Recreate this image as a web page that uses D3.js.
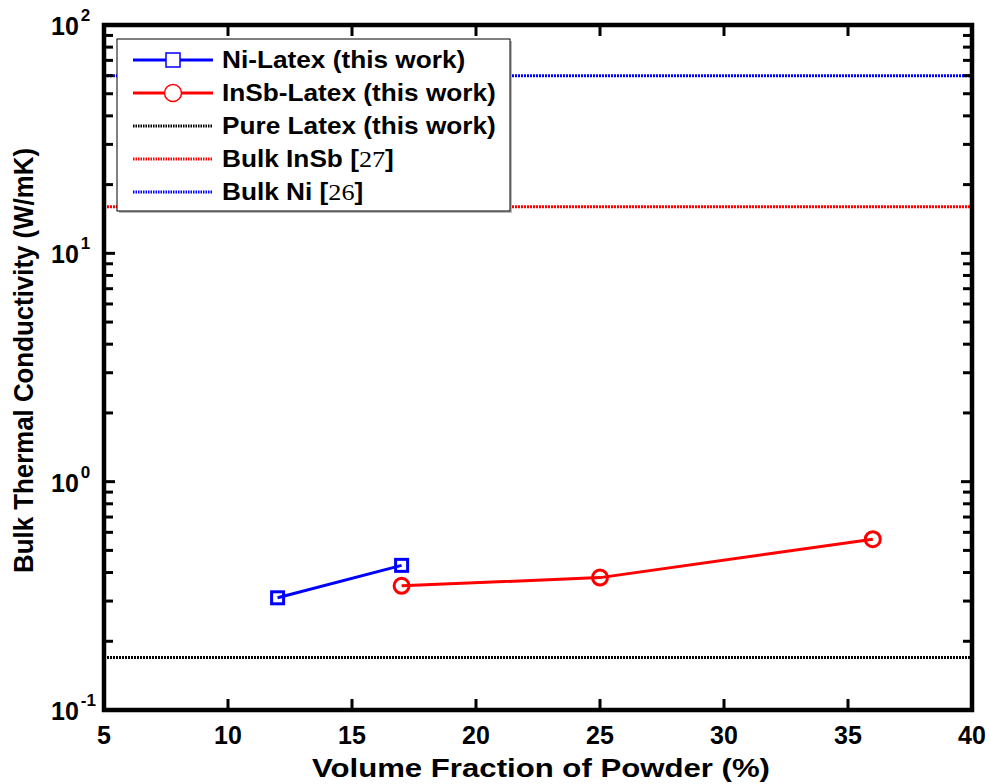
<!DOCTYPE html>
<html>
<head>
<meta charset="utf-8">
<script src="https://cdn.jsdelivr.net/npm/d3@7"></script>
<style>
  body { margin: 0; background: #fff; }
  svg { display: block; font-family: Arial, "Liberation Sans", sans-serif; }
  .tick-label { font-size: 25px; font-weight: bold; }
  .axis-title { font-weight: bold; }
  .legend-text { font-size: 23px; font-weight: bold; }
</style>
</head>
<body>
<svg id="chart" width="989" height="784"></svg>
<script>
// data
const niX = [12, 17];
const niY = [0.31, 0.43];
const insbX = [17, 25, 36];
const insbY = [0.35, 0.38, 0.56];
const pureLatex = 0.17;
const bulkInSb = 16;
const bulkNi = 60;

const xTicks = [5, 10, 15, 20, 25, 30, 35, 40];
const yDecades = [-1, 0, 1, 2];

const W = 989, H = 784;
const m = { left: 104, right: 17, top: 25, bottom: 74 };

const svg = d3.select('#chart');

const x = d3.scaleLinear().domain([5, 40]).range([m.left, W - m.right]);
const y = d3.scaleLog().domain([0.1, 100]).range([H - m.bottom, m.top]);

const x0 = x.range()[0], x1 = x.range()[1];
const yb = y.range()[0], yt = y.range()[1];

// reference lines (dotted)
const refs = [
  { v: bulkNi, color: '#0000ff' },
  { v: bulkInSb, color: '#ff0000' },
  { v: pureLatex, color: '#000000' },
];
svg.append('g').selectAll('line')
  .data(refs)
  .enter().append('line')
  .attr('x1', x0).attr('x2', x1)
  .attr('y1', d => y(d.v)).attr('y2', d => y(d.v))
  .attr('stroke', d => d.color)
  .attr('stroke-width', 3)
  .attr('stroke-dasharray', '2,1');

// data series
const line = d3.line().x(d => x(d[0])).y(d => y(d[1]));
const niPts = niX.map((v, i) => [v, niY[i]]);
const insbPts = insbX.map((v, i) => [v, insbY[i]]);

svg.append('path').datum(niPts)
  .attr('d', line).attr('fill', 'none')
  .attr('stroke', '#0000ff').attr('stroke-width', 3);
svg.append('path').datum(insbPts)
  .attr('d', line).attr('fill', 'none')
  .attr('stroke', '#ff0000').attr('stroke-width', 3);

svg.append('g').selectAll('rect')
  .data(niPts)
  .enter().append('rect')
  .attr('x', d => x(d[0]) - 6).attr('y', d => y(d[1]) - 6)
  .attr('width', 12).attr('height', 12)
  .attr('fill', 'none').attr('stroke', '#0000ff').attr('stroke-width', 3);

svg.append('g').selectAll('circle')
  .data(insbPts)
  .enter().append('circle')
  .attr('cx', d => x(d[0])).attr('cy', d => y(d[1]))
  .attr('r', 7.5)
  .attr('fill', 'none').attr('stroke', '#ff0000').attr('stroke-width', 3);

// frame + ticks
const axG = svg.append('g').attr('stroke', '#000');

const yTickVals = [];
yDecades.forEach(d => {
  for (let k = 1; k <= 9; k++) {
    const v = k * Math.pow(10, d);
    if (v <= 100.0001) yTickVals.push({ v, major: k === 1 });
  }
});
yTickVals.forEach(t => {
  const len = t.major ? 11 : 9;
  axG.append('line').attr('x1', x0).attr('x2', x0 + len)
    .attr('y1', y(t.v)).attr('y2', y(t.v)).attr('stroke-width', 3);
  axG.append('line').attr('x1', x1).attr('x2', x1 - len)
    .attr('y1', y(t.v)).attr('y2', y(t.v)).attr('stroke-width', 3);
});
xTicks.forEach(v => {
  axG.append('line').attr('x1', x(v)).attr('x2', x(v))
    .attr('y1', yb).attr('y2', yb - 11).attr('stroke-width', 3);
  axG.append('line').attr('x1', x(v)).attr('x2', x(v))
    .attr('y1', yt).attr('y2', yt + 11).attr('stroke-width', 3);
});

axG.append('rect')
  .attr('x', x0).attr('y', yt)
  .attr('width', x1 - x0).attr('height', yb - yt)
  .attr('fill', 'none').attr('stroke-width', 4.5);

// x tick labels
svg.append('g').selectAll('text')
  .data(xTicks)
  .enter().append('text')
  .attr('class', 'tick-label')
  .attr('x', d => x(d)).attr('y', yb + 34)
  .attr('text-anchor', 'middle')
  .text(d => d);

// y tick labels (10^n)
yDecades.forEach(d => {
  const t = svg.append('text')
    .attr('class', 'tick-label')
    .attr('x', 51).attr('y', y(Math.pow(10, d)) + 10);
  t.append('tspan').text('10');
  t.append('tspan').attr('dx', 2).attr('dy', -14).style('font-size', '17px').text(d);
});

// axis titles (the figure's text is stretched horizontally)
svg.append('text').attr('class', 'axis-title')
  .style('font-size', '26px')
  .attr('x', 312).attr('y', 777)
  .attr('textLength', 458).attr('lengthAdjust', 'spacingAndGlyphs')
  .text('Volume Fraction of Powder (%)');
svg.append('text').attr('class', 'axis-title')
  .style('font-size', '27px')
  .attr('transform', 'translate(33,573) rotate(-90)')
  .attr('textLength', 425).attr('lengthAdjust', 'spacingAndGlyphs')
  .text('Bulk Thermal Conductivity (W/mK)');

// legend
const legendItems = [
  { label: 'Ni-Latex (this work)', color: '#0000ff', marker: 'square' },
  { label: 'InSb-Latex (this work)', color: '#ff0000', marker: 'circle' },
  { label: 'Pure Latex (this work)', color: '#000000', dotted: true },
  { label: 'Bulk InSb ', ref: '27', color: '#ff0000', dotted: true },
  { label: 'Bulk Ni ', ref: '26', color: '#0000ff', dotted: true },
];
const lg = svg.append('g').attr('transform', 'translate(117,39)');
lg.append('rect').attr('x', 2).attr('y', 2).attr('width', 393).attr('height', 172)
  .attr('fill', '#bbb');
lg.append('rect').attr('width', 393).attr('height', 172)
  .attr('fill', '#fff').attr('stroke', '#000').attr('stroke-width', 1);

legendItems.forEach((d, i) => {
  const cy = 21 + i * 33;
  const g = lg.append('g').attr('transform', `translate(0,${cy})`);
  g.append('line').attr('x1', 16).attr('x2', 96).attr('y1', 0).attr('y2', 0)
    .attr('stroke', d.color)
    .attr('stroke-width', 3)
    .attr('stroke-dasharray', d.dotted ? '1.5,1' : null);
  if (d.marker === 'square') {
    g.append('rect').attr('x', 49).attr('y', -7).attr('width', 14).attr('height', 14)
      .attr('fill', '#fff').attr('stroke', d.color).attr('stroke-width', 1.5);
  } else if (d.marker === 'circle') {
    g.append('circle').attr('cx', 56).attr('cy', 0).attr('r', 8.5)
      .attr('fill', '#fff').attr('stroke', d.color).attr('stroke-width', 1.5);
  }
  const t = g.append('text').attr('class', 'legend-text')
    .attr('transform', 'translate(105,8) scale(1.14,1)');
  if (d.ref) {
    t.append('tspan').text(d.label + '[');
    t.append('tspan').style('font-family', '"Liberation Serif", "Times New Roman", serif')
      .style('font-weight', 'normal').text(d.ref);
    t.append('tspan').text(']');
  } else {
    t.text(d.label);
  }
});
</script>
</body>
</html>
